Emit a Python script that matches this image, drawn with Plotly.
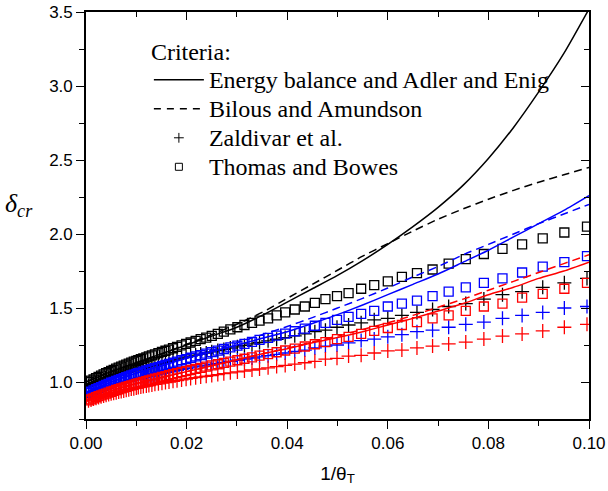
import plotly.graph_objects as go

# ---- data -------------------------------------------------------------
# abscissa of the discrete criteria (1/theta_T)
inv_theta = [
    0.0996, 0.0951, 0.0908, 0.0867, 0.0828, 0.0791, 0.0755, 0.0721, 0.0689, 0.0658,
    0.0628, 0.0600, 0.0573, 0.0547, 0.0522, 0.0499, 0.0476, 0.0455, 0.0435, 0.0415,
    0.0396, 0.0379, 0.0362, 0.0345, 0.0330, 0.0315, 0.0301, 0.0287, 0.0274, 0.0262,
    0.0250, 0.0239, 0.0228, 0.0218, 0.0208, 0.0199, 0.0190, 0.0181, 0.0173, 0.0165,
    0.0158, 0.0151, 0.0144, 0.0137, 0.0131, 0.0125, 0.0120, 0.0114, 0.0109, 0.0104,
    0.0100, 0.0095, 0.0090, 0.0085, 0.0080, 0.0075, 0.0070, 0.0065, 0.0060, 0.0055,
    0.0050, 0.0045, 0.0040, 0.0035, 0.0030, 0.0025, 0.0020, 0.0015, 0.0010, 0.0005,
]

# Thomas and Bowes (squares)
tb_black = [
    2.05, 2.01, 1.97, 1.93, 1.90, 1.865, 1.83, 1.80, 1.76, 1.735,
    1.71, 1.68, 1.655, 1.63, 1.60, 1.58, 1.56, 1.535, 1.51, 1.49,
    1.47, 1.45, 1.43, 1.415, 1.40, 1.385, 1.37, 1.355, 1.34, 1.325,
    1.312, 1.30, 1.29, 1.278, 1.267, 1.257, 1.247, 1.237, 1.228, 1.219,
    1.211, 1.203, 1.195, 1.187, 1.18, 1.173, 1.167, 1.16, 1.154, 1.148,
    1.143, 1.137, 1.131, 1.124, 1.118, 1.111, 1.104, 1.097, 1.09, 1.082,
    1.075, 1.067, 1.059, 1.051, 1.043, 1.034, 1.026, 1.017, 1.009, 1.0,
]
tb_blue = [
    1.85, 1.81, 1.78, 1.74, 1.70, 1.67, 1.64, 1.61, 1.58, 1.55,
    1.53, 1.51, 1.48, 1.46, 1.44, 1.42, 1.40, 1.38, 1.36, 1.343,
    1.327, 1.313, 1.298, 1.284, 1.271, 1.258, 1.246, 1.234, 1.223, 1.212,
    1.202, 1.192, 1.182, 1.173, 1.164, 1.155, 1.147, 1.138, 1.13, 1.122,
    1.115, 1.108, 1.101, 1.094, 1.087, 1.081, 1.076, 1.07, 1.064, 1.059,
    1.055, 1.049, 1.044, 1.038, 1.032, 1.026, 1.02, 1.014, 1.008, 1.001,
    0.995, 0.988, 0.981, 0.974, 0.966, 0.959, 0.951, 0.943, 0.935, 0.927,
]
tb_red = [
    1.67, 1.63, 1.595, 1.57, 1.53, 1.51, 1.48, 1.45, 1.43, 1.405,
    1.385, 1.365, 1.345, 1.325, 1.305, 1.29, 1.27, 1.255, 1.24, 1.226,
    1.213, 1.201, 1.189, 1.178, 1.167, 1.157, 1.147, 1.138, 1.129, 1.12,
    1.112, 1.104, 1.096, 1.089, 1.081, 1.074, 1.067, 1.06, 1.053, 1.046,
    1.04, 1.034, 1.028, 1.022, 1.016, 1.011, 1.006, 1.001, 0.996, 0.991,
    0.987, 0.982, 0.977, 0.972, 0.967, 0.962, 0.957, 0.951, 0.946, 0.94,
    0.934, 0.928, 0.922, 0.916, 0.91, 0.904, 0.897, 0.89, 0.883, 0.876,
]

# Zaldivar et al. (plus signs)
zd_black = [
    1.70, 1.67, 1.64, 1.61, 1.59, 1.56, 1.53, 1.51, 1.49, 1.47,
    1.45, 1.43, 1.42, 1.40, 1.385, 1.37, 1.35, 1.34, 1.325, 1.312,
    1.30, 1.289, 1.278, 1.267, 1.257, 1.247, 1.238, 1.229, 1.22, 1.212,
    1.204, 1.196, 1.189, 1.182, 1.175, 1.168, 1.161, 1.155, 1.149, 1.143,
    1.137, 1.131, 1.125, 1.119, 1.114, 1.109, 1.104, 1.099, 1.094, 1.089,
    1.085, 1.08, 1.075, 1.07, 1.065, 1.06, 1.055, 1.049, 1.044, 1.038,
    1.032, 1.026, 1.02, 1.014, 1.008, 1.002, 0.996, 0.989, 0.982, 0.975,
]
zd_blue = [
    1.51, 1.50, 1.47, 1.45, 1.43, 1.405, 1.39, 1.37, 1.35, 1.34,
    1.32, 1.305, 1.29, 1.28, 1.265, 1.25, 1.243, 1.23, 1.216, 1.206,
    1.196, 1.187, 1.178, 1.17, 1.162, 1.154, 1.147, 1.14, 1.133, 1.126,
    1.12, 1.114, 1.108, 1.102, 1.096, 1.09, 1.085, 1.079, 1.074, 1.069,
    1.064, 1.059, 1.054, 1.049, 1.044, 1.04, 1.036, 1.031, 1.027, 1.023,
    1.019, 1.015, 1.011, 1.006, 1.002, 0.997, 0.992, 0.988, 0.983, 0.978,
    0.973, 0.968, 0.962, 0.957, 0.951, 0.945, 0.939, 0.933, 0.926, 0.919,
]
zd_red = [
    1.39, 1.37, 1.345, 1.325, 1.31, 1.29, 1.27, 1.257, 1.243, 1.23,
    1.216, 1.21, 1.196, 1.18, 1.175, 1.16, 1.155, 1.14, 1.13, 1.121,
    1.112, 1.104, 1.096, 1.088, 1.081, 1.074, 1.068, 1.062, 1.056, 1.05,
    1.044, 1.039, 1.034, 1.029, 1.024, 1.019, 1.014, 1.009, 1.005, 1.0,
    0.996, 0.992, 0.988, 0.984, 0.98, 0.976, 0.973, 0.969, 0.966, 0.962,
    0.959, 0.955, 0.952, 0.948, 0.944, 0.94, 0.936, 0.932, 0.928, 0.924,
    0.92, 0.915, 0.911, 0.906, 0.901, 0.896, 0.891, 0.885, 0.879, 0.873,
]

# continuous criteria
inv_theta_line = [0.0, 0.005, 0.01, 0.015, 0.02, 0.025, 0.03, 0.035, 0.04, 0.045,
                  0.05, 0.055, 0.06, 0.065, 0.07, 0.075, 0.08, 0.085, 0.09, 0.095, 0.1]
# Energy balance and Adler and Enig (solid)
eb_black = [1.00, 1.07, 1.13, 1.19, 1.25, 1.31, 1.37, 1.45, 1.54, 1.63,
            1.72, 1.82, 1.93, 2.05, 2.18, 2.33, 2.51, 2.72, 2.96, 3.22, 3.52]
eb_blue = [0.93, 1.00, 1.06, 1.11, 1.16, 1.205, 1.25, 1.295, 1.34, 1.395,
           1.455, 1.52, 1.59, 1.66, 1.73, 1.81, 1.89, 1.98, 2.07, 2.16, 2.26]
eb_red = [0.87, 0.94, 0.99, 1.03, 1.07, 1.11, 1.15, 1.19, 1.225, 1.265,
          1.30, 1.34, 1.385, 1.43, 1.48, 1.53, 1.59, 1.64, 1.70, 1.75, 1.81]
# Bilous and Amundson (dashed)
ba_black = [1.00, 1.07, 1.13, 1.19, 1.255, 1.32, 1.39, 1.47, 1.565, 1.66,
            1.755, 1.85, 1.935, 2.02, 2.10, 2.17, 2.235, 2.295, 2.35, 2.40, 2.45]
ba_blue = [0.93, 1.00, 1.06, 1.11, 1.165, 1.215, 1.265, 1.32, 1.375, 1.435,
           1.50, 1.565, 1.635, 1.71, 1.78, 1.86, 1.93, 2.00, 2.07, 2.135, 2.20]
ba_red = [0.87, 0.94, 0.99, 1.03, 1.07, 1.11, 1.15, 1.19, 1.228, 1.27,
          1.31, 1.355, 1.40, 1.45, 1.505, 1.56, 1.62, 1.68, 1.74, 1.80, 1.86]

legend_names = ["Energy balance and Adler and Enig", "Bilous and Amundson",
                "Zaldivar et al.", "Thomas and Bowes"]

# ---- figure -----------------------------------------------------------
BLACK, BLUE, RED = "#000000", "#0000FF", "#FF0000"
SERIF = "Liberation Serif, Times New Roman, serif"
SANS = "Liberation Sans, Arial, sans-serif"
groups = [
    (BLACK, tb_black, zd_black, eb_black, ba_black),
    (BLUE, tb_blue, zd_blue, eb_blue, ba_blue),
    (RED, tb_red, zd_red, eb_red, ba_red),
]

fig = go.Figure()

for color, tb, zd, eb, ba in groups:
    fig.add_trace(go.Scatter(
        x=inv_theta, y=tb, mode="markers", showlegend=False,
        marker=dict(symbol="square-open", size=9, color=color, line=dict(width=1.3, color=color)),
    ))
    fig.add_trace(go.Scatter(
        x=inv_theta, y=zd, mode="markers", showlegend=False,
        marker=dict(symbol="cross-thin-open", size=10, color=color, line=dict(width=1.3, color=color)),
    ))

for color, tb, zd, eb, ba in groups:
    fig.add_trace(go.Scatter(
        x=inv_theta_line, y=eb, mode="lines", showlegend=False,
        line=dict(color=color, width=1.5, shape="spline", smoothing=0.6),
    ))
    fig.add_trace(go.Scatter(
        x=inv_theta_line, y=ba, mode="lines", showlegend=False,
        line=dict(color=color, width=1.5, dash="8px,5px", shape="spline", smoothing=0.6),
    ))


def legend_label(text):
    return '<span style="font-size:24px">' + text + "</span>"


# legend entries (drawn in black)
fig.add_trace(go.Scatter(x=[None], y=[None], mode="lines", name=legend_label(legend_names[0]),
                         line=dict(color=BLACK, width=1.5)))
fig.add_trace(go.Scatter(x=[None], y=[None], mode="lines", name=legend_label(legend_names[1]),
                         line=dict(color=BLACK, width=1.5, dash="7px,6px")))
fig.add_trace(go.Scatter(x=[None], y=[None], mode="markers", name=legend_label(legend_names[2]),
                         marker=dict(symbol="cross-thin-open", size=7, color=BLACK,
                                     line=dict(width=1, color=BLACK))))
fig.add_trace(go.Scatter(x=[None], y=[None], mode="markers", name=legend_label(legend_names[3]),
                         xaxis="x2", yaxis="y2",
                         marker=dict(symbol="square-open", size=7, color=BLACK,
                                     line=dict(width=1, color=BLACK))))

tick_font = dict(family=SANS, size=17, color="black")
axis_common = dict(showline=True, linecolor="black", linewidth=1.6, showgrid=False,
                   zeroline=False, tickcolor="black", tickwidth=1.4, automargin=False)
x_ticks = [0, 0.02, 0.04, 0.06, 0.08, 0.1]
y_ticks = [1.0, 1.5, 2.0, 2.5, 3.0, 3.5]

fig.update_layout(
    width=608, height=491,
    margin=dict(l=86, r=19, t=12, b=72),
    paper_bgcolor="white", plot_bgcolor="white",
    xaxis=dict(range=[0, 0.1], tickvals=x_ticks, tickformat=".2f",
               ticks="outside", ticklen=8, tickfont=tick_font,
               minor=dict(dtick=0.01, tick0=0, ticks="outside", ticklen=5,
                          tickcolor="black", tickwidth=1.4),
               title=dict(text="1/θ<sub>T</sub>", font=dict(family=SANS, size=19, color="black"),
                          standoff=14),
               **axis_common),
    yaxis=dict(range=[0.75, 3.5], tickvals=y_ticks, tickformat=".1f",
               ticks="outside", ticklen=8, tickfont=tick_font,
               minor=dict(dtick=0.25, tick0=0.75, ticks="outside", ticklen=5,
                          tickcolor="black", tickwidth=1.4),
               **axis_common),
    xaxis2=dict(range=[0, 0.1], overlaying="x", side="top", tickvals=x_ticks,
                ticks="inside", ticklen=8, showticklabels=False,
                minor=dict(dtick=0.01, tick0=0, ticks="inside", ticklen=5,
                           tickcolor="black", tickwidth=1.4),
                **axis_common),
    yaxis2=dict(range=[0.75, 3.5], overlaying="y", side="right", tickvals=y_ticks,
                ticks="inside", ticklen=8, showticklabels=False,
                minor=dict(dtick=0.25, tick0=0.75, ticks="inside", ticklen=5,
                           tickcolor="black", tickwidth=1.4),
                **axis_common),
    legend=dict(x=0.125, y=0.958, xanchor="left", yanchor="top",
                bgcolor="rgba(0,0,0,0)", borderwidth=0,
                font=dict(family=SERIF, size=20, color="black"),
                title=dict(text="Criteria:", font=dict(family=SERIF, size=24, color="black")),
                itemwidth=50, tracegroupgap=0),
    annotations=[dict(
        text="<i>δ</i><sub><i>cr</i></sub>", xref="paper", yref="paper",
        x=-0.133, y=0.526, xanchor="center", yanchor="middle", showarrow=False,
        font=dict(family=SERIF, size=26, color="black"),
    )],
)

fig.write_html("out.html")
